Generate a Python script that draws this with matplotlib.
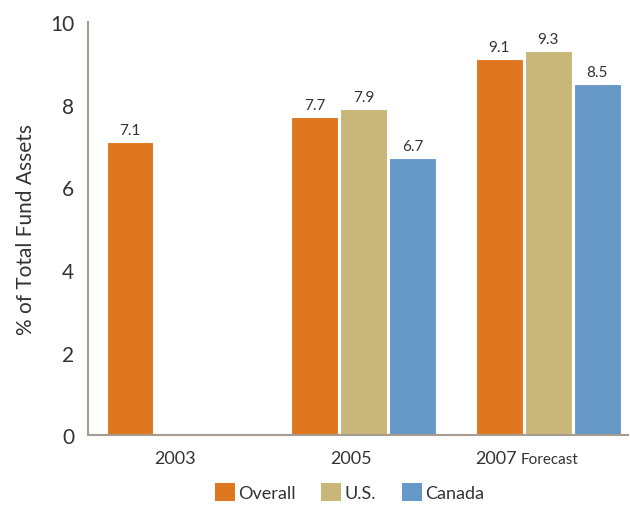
import numpy as np
import matplotlib
matplotlib.use("Agg")
import matplotlib.pyplot as plt
from matplotlib.patches import Patch

years = ["2003", "2005", "2007"]
overall = [7.1, 7.7, 9.1]
us = [None, 7.9, 9.3]
canada = [None, 6.7, 8.5]
series_names = ["Overall", "U.S.", "Canada"]
colors = ["#DF771E", "#C9B779", "#6699C8"]

plt.rcParams['font.family'] = ['Lato', 'DejaVu Sans']
txt = "#333333"

fig = plt.figure(figsize=(6.3, 5.06), dpi=100)
ax = fig.add_axes([0.1397, 0.138, 0.857, 0.8165])

x = np.arange(len(years))
w = 0.25
step = 0.265
for i, (vals, c) in enumerate(zip([overall, us, canada], colors)):
    for xi, v in zip(x, vals):
        if v is None:
            continue
        xp = xi + (i - 1) * step
        ax.bar(xp, v, width=w, color=c, edgecolor="white", linewidth=0.8)
        ax.text(xp, v + 0.12, "%.1f" % v, ha="center", va="bottom",
                fontsize=11, color=txt)

ax.set_xlim(-0.49, 2.43)
ax.set_ylim(0, 10)
ax.set_yticks([0, 2, 4, 6, 8, 10])
ax.tick_params(axis="y", length=0, labelsize=15, labelcolor=txt, pad=10)
ax.set_xticks([])
for s in ["top", "right"]:
    ax.spines[s].set_visible(False)
for s in ["left", "bottom"]:
    ax.spines[s].set_color("#A89C90")
    ax.spines[s].set_linewidth(1.5)

# category labels
ax.text(-0.02, -0.35, years[0], ha="center", va="top", fontsize=13, color=txt)
ax.text(0.93, -0.35, years[1], ha="center", va="top", fontsize=13, color=txt)
ax.text(1.83, -0.35, years[2], ha="right", va="top", fontsize=13, color=txt)
ax.text(1.85, -0.4, "Forecast", ha="left", va="top", fontsize=11, color=txt)

ax.set_ylabel("% of Total Fund Assets", fontsize=15, color=txt, labelpad=10)

handles = [Patch(facecolor=c, edgecolor="none") for c in colors]
fig.legend(handles, series_names, loc="center", bbox_to_anchor=(0.555, 0.025),
           ncol=3, frameon=False, fontsize=13, handlelength=1.1, handleheight=1.1,
           handletextpad=0.2, columnspacing=1.4, labelcolor=txt)

fig.savefig("out.png", dpi=100)
